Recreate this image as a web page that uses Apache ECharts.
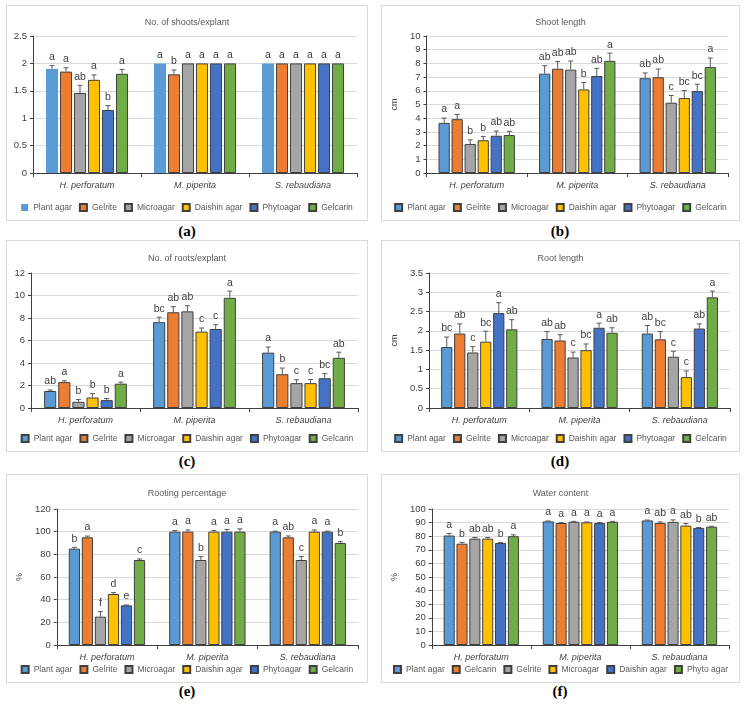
<!DOCTYPE html>
<html>
<head>
<meta charset="utf-8">
<script src="https://cdn.jsdelivr.net/npm/echarts@6/dist/echarts.min.js"></script>
<style>
  body { margin: 0; background: #fff; width: 744px; height: 717px; position: relative; overflow: hidden; }
  .box { position: absolute; border: 1px solid #d9d9d9; box-sizing: border-box; }
  .tag { position: absolute; width: 120px; text-align: center; font: bold 15px 'Liberation Serif', serif; color: #000; }
</style>
</head>
<body>
<div id="pa" class="box" style="left:6px;top:5px;width:362px;height:216px"></div>
<div id="pb" class="box" style="left:381px;top:5px;width:359px;height:216px"></div>
<div id="pc" class="box" style="left:6px;top:240px;width:362px;height:212px"></div>
<div id="pd" class="box" style="left:381px;top:240px;width:359px;height:212px"></div>
<div id="pe" class="box" style="left:6px;top:474px;width:362px;height:209px"></div>
<div id="pf" class="box" style="left:381px;top:474px;width:359px;height:209px"></div>
<div class="tag" style="left:127px;top:223px">(a)</div>
<div class="tag" style="left:500px;top:223px">(b)</div>
<div class="tag" style="left:127px;top:453px">(c)</div>
<div class="tag" style="left:500px;top:453px">(d)</div>
<div class="tag" style="left:127px;top:683px">(e)</div>
<div class="tag" style="left:500px;top:683px">(f)</div>
<script>
// categories and series names
var species = ['H. perforatum', 'M. piperita', 'S. rebaudiana'];
var media = ['Plant agar', 'Gelrite', 'Microagar', 'Daishin agar', 'Phytoagar', 'Gelcarin'];
var mediaWater = ['Plant agar', 'Gelcarin', 'Gelrite', 'Microagar', 'Daishin agar', 'Phyto agar'];
var colors = ['#5B9BD5', '#ED7D31', '#A5A5A5', '#FFC000', '#4472C4', '#70AD47'];

// (a) No. of shoots/explant  - rows = media, columns = species
var shootsMean = [[1.90, 2, 2], [1.85, 1.80, 2], [1.46, 2, 2], [1.70, 2, 2], [1.15, 2, 2], [1.81, 2, 2]];
var shootsErr = [[0.06, 0, 0], [0.07, 0.08, 0], [0.14, 0, 0], [0.09, 0, 0], [0.08, 0, 0], [0.08, 0, 0]];
var shootsLetters = [['a', 'a', 'a'], ['a', 'b', 'a'], ['ab', 'a', 'a'], ['a', 'a', 'a'], ['b', 'a', 'a'], ['a', 'a', 'a']];

// (b) Shoot length
var shootLenMean = [[3.66, 7.25, 6.92], [3.93, 7.61, 6.99], [2.12, 7.54, 5.13], [2.39, 6.10, 5.47], [2.72, 7.08, 5.98], [2.77, 8.19, 7.73]];
var shootLenErr = [[0.35, 0.58, 0.38], [0.34, 0.53, 0.60], [0.30, 0.63, 0.53], [0.28, 0.50, 0.55], [0.34, 0.56, 0.50], [0.27, 0.56, 0.66]];
var shootLenLetters = [['a', 'ab', 'ab'], ['a', 'ab', 'ab'], ['b', 'ab', 'c'], ['b', 'b', 'bc'], ['ab', 'ab', 'bc'], ['ab', 'a', 'a']];

// (c) No. of roots/explant
var rootsMean = [[1.51, 7.63, 4.92], [2.30, 8.51, 3.00], [0.55, 8.59, 2.21], [0.93, 6.79, 2.21], [0.70, 7.02, 2.65], [2.16, 9.79, 4.46]];
var rootsErr = [[0.09, 0.44, 0.50], [0.12, 0.50, 0.55], [0.20, 0.50, 0.30], [0.35, 0.32, 0.32], [0.14, 0.38, 0.40], [0.14, 0.60, 0.50]];
var rootsLetters = [['ab', 'bc', 'a'], ['a', 'ab', 'b'], ['b', 'ab', 'c'], ['b', 'c', 'c'], ['b', 'c', 'bc'], ['a', 'a', 'ab']];

// (d) Root length
var rootLenMean = [[1.58, 1.79, 1.93], [1.93, 1.75, 1.78], [1.44, 1.31, 1.33], [1.72, 1.50, 0.80], [2.46, 2.08, 2.06], [2.04, 1.95, 2.87]];
var rootLenErr = [[0.26, 0.19, 0.21], [0.25, 0.15, 0.20], [0.15, 0.14, 0.14], [0.27, 0.16, 0.16], [0.27, 0.12, 0.12], [0.25, 0.13, 0.16]];
var rootLenLetters = [['bc', 'ab', 'ab'], ['ab', 'ab', 'bc'], ['c', 'c', 'c'], ['bc', 'bc', 'c'], ['a', 'a', 'ab'], ['ab', 'ab', 'a']];

// (e) Rooting percentage
var rootingMean = [[85, 100, 100], [95, 100, 95], [25, 75, 75], [45, 100, 100], [35, 100, 100], [75, 100, 90]];
var rootingErr = [[1.2, 1.0, 0.5], [1.1, 1.5, 1.2], [4.4, 3.0, 3.0], [1.2, 1.0, 1.5], [0.3, 2.0, 0.5], [0.9, 2.5, 1.2]];
var rootingLetters = [['b', 'a', 'a'], ['a', 'a', 'ab'], ['f', 'b', 'c'], ['d', 'a', 'a'], ['e', 'a', 'a'], ['c', 'a', 'b']];

// (f) Water content (own legend order)
var waterMean = [[80.5, 90.9, 91.6], [74.5, 89.7, 89.7], [78.2, 90.6, 90.5], [78.2, 90.2, 87.8], [75.0, 89.7, 86.1], [80.0, 90.6, 87.0]];
var waterErr = [[1.5, 0.3, 0.3], [1.0, 0.3, 0.8], [0.8, 0.3, 1.5], [0.8, 0.3, 1.5], [0.3, 0.3, 0.3], [1.0, 0.3, 0.3]];
var waterLetters = [['a', 'a', 'a'], ['b', 'a', 'ab'], ['ab', 'a', 'a'], ['ab', 'a', 'ab'], ['b', 'a', 'b'], ['a', 'a', 'ab']];

var FONT = "'Liberation Sans', Arial, sans-serif";
var CAT_GAP = 0.24, BAR_GAP = 0.16;

function drawPanel(domId, opt) {
    var myCharts = echarts.init(document.getElementById(domId), null, { renderer: 'canvas' });
    var n = opt.names.length;
    var series = [];
    var errData = [];
    for (var i = 0; i < n; i++) {
        var noBorder = opt.noBorderFirst && i === 0;
        series.push({
            name: opt.names[i],
            type: 'bar',
            barCategoryGap: (CAT_GAP * 100) + '%',
            barGap: (BAR_GAP * 100) + '%',
            itemStyle: {
                color: colors[i],
                borderColor: noBorder ? colors[i] : '#404040',
                borderWidth: noBorder ? 0 : 1
            },
            data: opt.mean[i]
        });
        for (var j = 0; j < species.length; j++) {
            errData.push([j, i, opt.mean[i][j], opt.err[i][j]]);
        }
    }
    //误差线 + 字母
    series.push({
        type: 'custom',
        name: 'err',
        z: 5,
        clip: false,
        encode: { x: 0, y: 2 },
        data: errData,
        renderItem: function (params, api) {
            var cat = api.value(0), s = api.value(1), v = api.value(2), e = api.value(3);
            var base = api.coord([cat, v]);
            var top = api.coord([cat, v + e]);
            var bandW = api.size([1, 0])[0];
            var total = bandW * (1 - CAT_GAP);
            var bw = total / (n + (n - 1) * BAR_GAP);
            var x = base[0] - total / 2 + s * bw * (1 + BAR_GAP) + bw / 2;
            var children = [];
            if (e > 0) {
                children.push({
                    type: 'line',
                    shape: { x1: x, y1: base[1], x2: x, y2: top[1] },
                    style: { stroke: '#595959', lineWidth: 1 }
                });
                children.push({
                    type: 'line',
                    shape: { x1: x - 2.5, y1: top[1], x2: x + 2.5, y2: top[1] },
                    style: { stroke: '#595959', lineWidth: 1 }
                });
            }
            children.push({
                type: 'text',
                style: {
                    text: opt.letters[s][cat],
                    x: x,
                    y: top[1] - 3,
                    align: 'center',
                    verticalAlign: 'bottom',
                    fill: '#404040',
                    font: '10.5px ' + FONT
                }
            });
            return { type: 'group', children: children };
        }
    });

    var option = {
        animation: false,
        title: {
            text: opt.title,
            left: 'center',
            top: opt.titleTop,
            textStyle: { fontSize: 9, fontWeight: 'normal', color: '#595959', fontFamily: FONT }
        },
        legend: {
            data: opt.names,
            bottom: 8,
            left: 'center',
            padding: 0,
            icon: 'rect',
            itemWidth: 7,
            itemHeight: 7,
            itemGap: 7,
            textStyle: { fontSize: 8.5, color: '#595959', fontFamily: FONT }
        },
        grid: opt.grid,
        xAxis: {
            type: 'category',
            data: species,
            axisLine: { lineStyle: { color: '#404040', width: 1 } },
            axisTick: { show: true, length: 4, lineStyle: { color: '#404040' } },
            axisLabel: { fontStyle: 'italic', fontSize: 9, color: '#404040', fontFamily: FONT, margin: 8 },
            splitLine: { show: false }
        },
        yAxis: {
            type: 'value',
            min: 0,
            max: opt.max,
            interval: opt.interval,
            name: opt.yName || '',
            nameLocation: 'middle',
            nameRotate: 90,
            nameGap: opt.nameGap || 20,
            nameTextStyle: { fontSize: 9, color: '#404040', fontFamily: FONT },
            axisLine: { show: true, lineStyle: { color: '#404040', width: 1 } },
            axisTick: { show: true, length: 3, lineStyle: { color: '#404040' } },
            axisLabel: { fontSize: 9.5, color: '#404040', fontFamily: FONT, margin: 6 },
            splitLine: { show: true, lineStyle: { color: '#d9d9d9', width: 1 } }
        },
        series: series
    };
    myCharts.setOption(option);
}

drawPanel('pa', {
    title: 'No. of shoots/explant', titleTop: 7, names: media, noBorderFirst: true,
    mean: shootsMean, err: shootsErr, letters: shootsLetters, max: 2.5, interval: 0.5,
    grid: { left: 26, right: 10, top: 30, bottom: 47 }
});
drawPanel('pb', {
    title: 'Shoot length', titleTop: 7, names: media, yName: 'cm', nameGap: 23,
    mean: shootLenMean, err: shootLenErr, letters: shootLenLetters, max: 10, interval: 1,
    grid: { left: 42, right: 11, top: 30, bottom: 47 }
});
drawPanel('pc', {
    title: 'No. of roots/explant', titleTop: 8, names: media,
    mean: rootsMean, err: rootsErr, letters: rootsLetters, max: 12, interval: 2,
    grid: { left: 24, right: 9, top: 32, bottom: 43 }
});
drawPanel('pd', {
    title: 'Root length', titleTop: 8, names: media, yName: 'cm', nameGap: 23,
    mean: rootLenMean, err: rootLenErr, letters: rootLenLetters, max: 3.5, interval: 0.5,
    grid: { left: 40, right: 9, top: 32, bottom: 43 }
});
drawPanel('pe', {
    title: 'Rooting percentage', titleTop: 9, names: media, yName: '%', nameGap: 26,
    mean: rootingMean, err: rootingErr, letters: rootingLetters, max: 120, interval: 20,
    grid: { left: 44, right: 9, top: 34, bottom: 37 }
});
drawPanel('pf', {
    title: 'Water content', titleTop: 9, names: mediaWater, yName: '%', nameGap: 26,
    mean: waterMean, err: waterErr, letters: waterLetters, max: 100, interval: 10,
    grid: { left: 48, right: 10, top: 34, bottom: 37 }
});
</script>
</body>
</html>
